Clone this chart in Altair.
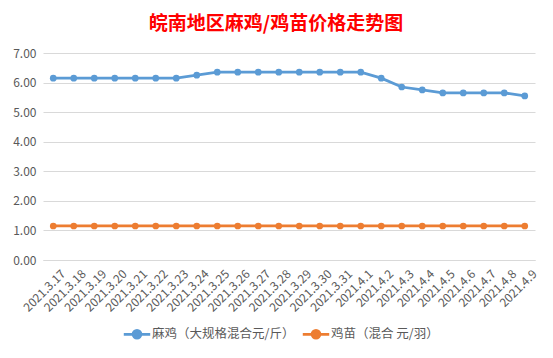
import altair as alt
import pandas as pd

dates = ["2021.3.17", "2021.3.18", "2021.3.19", "2021.3.20", "2021.3.21", "2021.3.22",
         "2021.3.23", "2021.3.24", "2021.3.25", "2021.3.26", "2021.3.27", "2021.3.28",
         "2021.3.29", "2021.3.30", "2021.3.31", "2021.4.1", "2021.4.2", "2021.4.3",
         "2021.4.4", "2021.4.5", "2021.4.6", "2021.4.7", "2021.4.8", "2021.4.9"]
maji = [6.15, 6.15, 6.15, 6.15, 6.15, 6.15, 6.15, 6.25, 6.35, 6.35, 6.35, 6.35,
        6.35, 6.35, 6.35, 6.35, 6.15, 5.85, 5.75, 5.65, 5.65, 5.65, 5.65, 5.55]
jimiao = [1.15] * 24
series_names = ["麻鸡（大规格混合元/斤）", "鸡苗（混合 元/羽）"]
colors = ["#5B9BD5", "#ED7D31"]

rows = []
for d, v in zip(dates, maji):
    rows.append({"date": d, "price": v, "series": series_names[0]})
for d, v in zip(dates, jimiao):
    rows.append({"date": d, "price": v, "series": series_names[1]})
df = pd.DataFrame(rows)

font = "Noto Sans CJK SC"
sym = "M-1,0L1,0M-0.3,0A0.3,0.3 0 1,1 0.3,0A0.3,0.3 0 1,1 -0.3,0"

chart = alt.Chart(df).mark_line(
    strokeWidth=2.75,
    point=alt.OverlayMarkDef(filled=True, size=45, opacity=1),
).encode(
    x=alt.X("date:O", sort=dates, title=None,
            scale=alt.Scale(paddingOuter=0.5),
            axis=alt.Axis(labelAngle=-45, labelFont=font, labelFontSize=12,
                          labelColor="#595959", ticks=False, domain=True,
                          domainColor="#D9D9D9", labelPadding=8, labelOffset=6)),
    y=alt.Y("price:Q", title=None,
            scale=alt.Scale(domain=[0, 7], nice=False),
            axis=alt.Axis(values=[0, 1, 2, 3, 4, 5, 6, 7], format=".2f",
                          labelFont=font, labelFontSize=12, labelColor="#595959",
                          ticks=False, domain=False, gridColor="#D9D9D9",
                          gridWidth=1, labelPadding=7)),
    color=alt.Color("series:N", sort=series_names,
                    scale=alt.Scale(domain=series_names, range=colors),
                    legend=alt.Legend(title=None, orient="none", direction="horizontal",
                                      legendX=79, legendY=266,
                                      symbolType=sym, symbolSize=700,
                                      symbolStrokeWidth=2.75,
                                      labelFont=font, labelFontSize=12.5,
                                      labelColor="#595959", labelOffset=0,
                                      columnPadding=2)),
).properties(
    width=492,
    height=207,
    autosize=alt.AutoSizeParams(type="none"),
    padding={"left": 43, "top": 53, "right": 18, "bottom": 98},
    background="white",
    title=alt.TitleParams("皖南地区麻鸡/鸡苗价格走势图", font=font, fontSize=19,
                          fontWeight="bold", color="#FF0000", anchor="middle",
                          offset=13, dx=-13),
).configure_view(stroke=None)

chart.save("out.html", embed_options={"renderer": "svg", "actions": False})
